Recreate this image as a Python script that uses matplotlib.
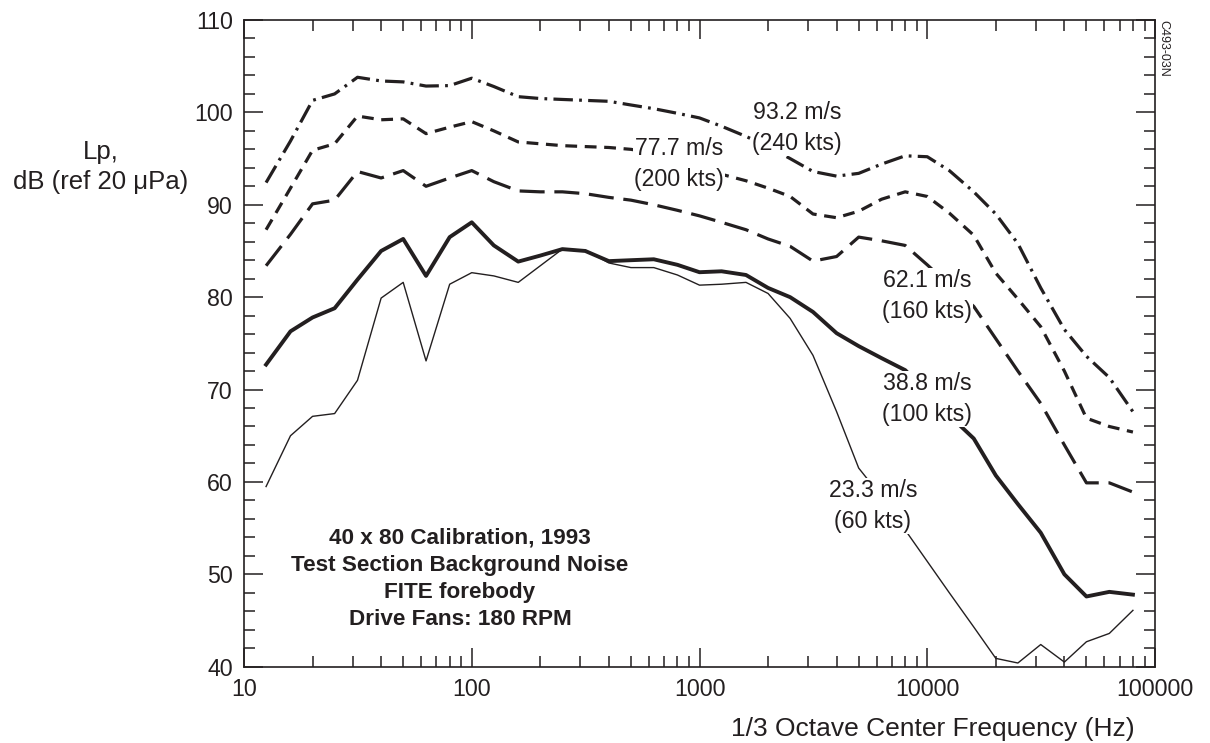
import matplotlib
matplotlib.use('Agg')
import matplotlib.pyplot as plt
from matplotlib.ticker import LogLocator, MultipleLocator, FixedLocator, FixedFormatter, NullFormatter

# 1/3 octave center frequencies (Hz)
freq_hz = [12.5, 16, 20, 25, 31.5, 40, 50, 63, 80, 100, 125, 160, 200, 250, 315,
           400, 500, 630, 800, 1000, 1250, 1600, 2000, 2500, 3150, 4000, 5000,
           6300, 8000, 10000, 12500, 16000, 20000, 25000, 31500, 40000, 50000,
           63000, 80000]

# Lp, dB (ref 20 uPa) for each tunnel speed
lp_23_3 = [59.5, 65.0, 67.1, 67.4, 71.0, 79.9, 81.6, 73.1, 81.4, 82.65, 82.3, 81.6,
           83.4, 85.2, 85.1, 83.7, 83.2, 83.2, 82.4, 81.3, 81.4, 81.6, 80.4, 77.7,
           73.7, 67.6, 61.5, 58.4, 54.8, 51.4, 48.0, 44.3, 40.9, 40.4, 42.4, 40.5,
           42.7, 43.6, 46.1]
lp_38_8 = [72.7, 76.3, 77.8, 78.8, 81.9, 85.0, 86.3, 82.3, 86.5, 88.1, 85.6, 83.85,
           84.5, 85.2, 85.0, 83.9, 84.0, 84.1, 83.5, 82.7, 82.8, 82.4, 81.0, 80.0,
           78.4, 76.1, 74.7, 73.4, 72.1, 69.7, 67.2, 64.7, 60.7, 57.6, 54.5, 50.0,
           47.6, 48.1, 47.8]
lp_62_1 = [83.4, 86.8, 90.1, 90.5, 93.6, 92.9, 93.7, 92.0, 92.9, 93.7, 92.5, 91.5,
           91.4, 91.4, 91.2, 90.8, 90.5, 90.0, 89.4, 88.8, 88.1, 87.3, 86.3, 85.5,
           83.9, 84.4, 86.5, 86.1, 85.6, 83.5, 81.3, 79.0, 75.5, 72.0, 68.5, 64.0,
           59.9, 59.9, 58.9]
lp_77_7 = [87.3, 91.8, 95.9, 96.6, 99.6, 99.2, 99.3, 97.7, 98.4, 99.0, 98.0, 96.8,
           96.6, 96.4, 96.3, 96.2, 96.0, 95.6, 94.9, 94.0, 93.3, 92.6, 91.8, 90.9,
           89.0, 88.6, 89.3, 90.6, 91.4, 90.9, 89.1, 86.7, 82.6, 79.8, 76.8, 72.0,
           66.9, 66.0, 65.4]
lp_93_2 = [92.4, 96.9, 101.3, 102.0, 103.8, 103.4, 103.3, 102.85, 102.9, 103.7, 102.8,
           101.7, 101.5, 101.4, 101.3, 101.2, 100.8, 100.4, 99.9, 99.4, 98.5, 97.4,
           96.3, 95.0, 93.6, 93.1, 93.4, 94.4, 95.3, 95.2, 93.7, 91.4, 89.0, 85.8,
           81.0, 76.5, 73.6, 71.3, 67.6]

x_tick_values = [10, 100, 1000, 10000, 100000]
x_tick_labels = ["10", "100", "1000", "10000", "100000"]
y_tick_values = [40, 50, 60, 70, 80, 90, 100, 110]

curve_labels = ["93.2 m/s\n(240 kts)", "77.7 m/s\n(200 kts)", "62.1 m/s\n(160 kts)",
                "38.8 m/s\n(100 kts)", "23.3 m/s\n(60 kts)"]
info_text = "40 x 80 Calibration, 1993\nTest Section Background Noise\nFITE forebody\nDrive Fans: 180 RPM"

plt.rcParams['font.family'] = ['Liberation Sans', 'DejaVu Sans']
plt.rcParams['lines.scale_dashes'] = False

W, H = 1210, 743
ink = '#231f20'
fig = plt.figure(figsize=(W / 100, H / 100), dpi=100)
ax = fig.add_axes([244 / W, 1 - 666.7 / H, (1155 - 244) / W, (666.7 - 20) / H])

ax.plot(freq_hz, lp_23_3, color=ink, lw=1.0)
ax.plot(freq_hz, lp_38_8, color=ink, lw=2.8)
ax.plot(freq_hz, lp_62_1, color=ink, lw=2.3, dashes=(18, 7))
ax.plot(freq_hz, lp_77_7, color=ink, lw=2.3, dashes=(8.5, 5.5))
ax.plot(freq_hz, lp_93_2, color=ink, lw=2.3, dashes=(14, 4.5, 2, 4.5))

ax.set_xscale('log')
ax.set_xlim(10, 100000)
ax.set_ylim(40, 110)
ax.xaxis.set_major_locator(FixedLocator(x_tick_values))
ax.xaxis.set_major_formatter(FixedFormatter(x_tick_labels))
ax.xaxis.set_minor_locator(LogLocator(base=10, subs=range(2, 10), numticks=20))
ax.xaxis.set_minor_formatter(NullFormatter())
ax.yaxis.set_major_locator(FixedLocator(y_tick_values))
ax.yaxis.set_minor_locator(MultipleLocator(2))

ax.tick_params(which='both', direction='in', top=True, right=True, colors=ink,
               width=1.1, labelsize=16.7, labelcolor=ink)
ax.tick_params(which='major', length=14, pad=8)
ax.tick_params(which='minor', length=8)
for s in ax.spines.values():
    s.set_linewidth(1.2)
    s.set_color(ink)

def fpos(x, y):
    return x / W, 1 - y / H

box = dict(facecolor='white', edgecolor='none', pad=1.0)
label_pos = [(797, 128), (679, 164), (927, 296), (927, 399), (873, 506)]
for txt, (px, py) in zip(curve_labels, label_pos):
    fig.text(*fpos(px, py), txt, ha='center', va='center', fontsize=16.7,
             color=ink, linespacing=1.45, bbox=box)

fig.text(*fpos(460, 579), info_text, ha='center', va='center', fontsize=16.2,
         fontweight='bold', color=ink, linespacing=1.38)

fig.text(*fpos(101, 167), "Lp,\ndB (ref 20 \u03bcPa)", ha='center', va='center',
         fontsize=18.5, color=ink, linespacing=1.36)
fig.text(*fpos(933, 729), "1/3 Octave Center Frequency (Hz)", ha='center',
         va='center', fontsize=19, color=ink)
fig.text(*fpos(1163, 48), "C493-03N", ha='center', va='center', fontsize=9,
         rotation=270, color=ink)

fig.savefig('out.png', dpi=100)
